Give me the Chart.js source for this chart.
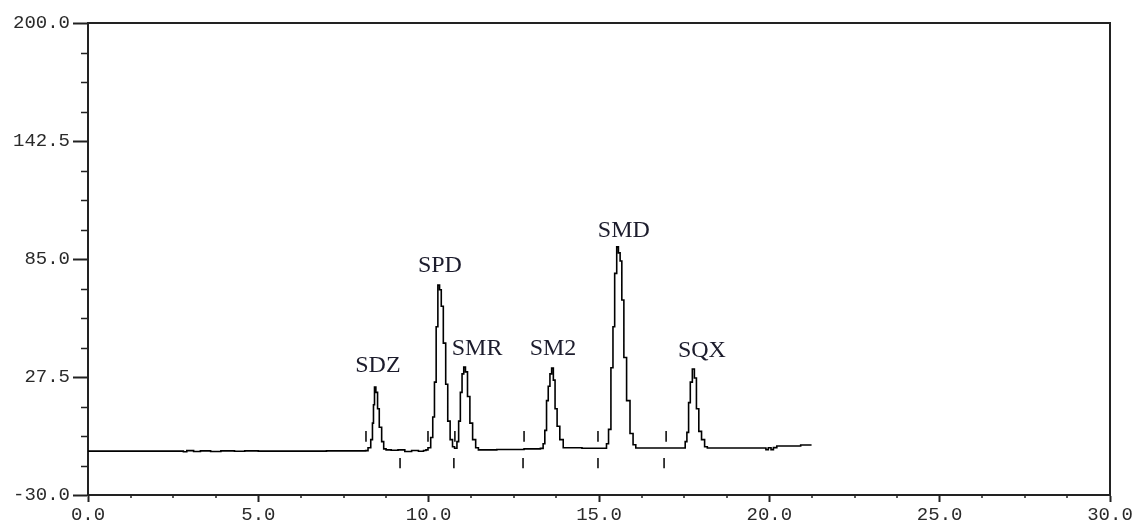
<!DOCTYPE html>
<html><head><meta charset="utf-8">
<script src="https://cdn.jsdelivr.net/npm/chart.js@4/dist/chart.umd.min.js"></script>
<style>html,body{margin:0;padding:0;background:#fff}#wrap{width:1139px;height:526px;position:relative}</style>
</head><body><div id="wrap"><canvas id="c"></canvas></div>
<script>
// ---- axis settings ----
const xMin = 0, xMax = 30, xMajorStep = 5, xMinorStep = 1.25;
const yMin = -30, yMax = 200, yMajorStep = 57.5, yMinorStep = 14.375;

// ---- chromatogram trace (time in min, signal) ----
const baselineStart = [[0,-8.6],[2.7,-8.6],[2.8,-8.9],[2.9,-8.4],[3.1,-8.8],[3.3,-8.5],[3.6,-8.8],[3.9,-8.5],[4.3,-8.7],[4.6,-8.5],[5.0,-8.6],[7.0,-8.5],[8.15,-8.4]];
const sdzPeak = [[8.22,-7.0],[8.30,-3.0],[8.35,5.0],[8.38,14.0],[8.41,22.6],[8.45,20.0],[8.50,12.0],[8.55,3.0],[8.62,-4.0],[8.68,-7.5],[8.75,-8.0]];
const gap1 = [[8.9,-8.2],[9.1,-8.0],[9.3,-8.8],[9.5,-8.3],[9.7,-8.7],[9.85,-8.3]];
const spdPeak = [[9.92,-8.0],[9.98,-7.0],[10.06,-2.0],[10.12,8.0],[10.17,25.0],[10.22,52.0],[10.27,72.3],[10.32,70.0],[10.37,62.0],[10.43,44.0],[10.50,24.0],[10.56,6.0],[10.63,-3.0],[10.70,-6.5]];
const smrPeak = [[10.76,-7.2],[10.83,-4.0],[10.88,6.0],[10.93,20.0],[10.98,29.0],[11.03,32.4],[11.08,30.0],[11.14,18.0],[11.21,5.0],[11.29,-3.0],[11.38,-7.0],[11.46,-8.0]];
const gap2 = [[12.0,-7.8],[12.8,-7.5],[13.28,-7.3]];
const sm2Peak = [[13.36,-5.0],[13.41,1.5],[13.46,16.0],[13.51,23.0],[13.56,29.0],[13.61,31.9],[13.66,26.0],[13.71,12.0],[13.77,3.5],[13.85,-3.0],[13.95,-7.0]];
const gap3 = [[14.5,-7.2],[15.15,-7.2]];
const smdPeak = [[15.22,-5.0],[15.28,2.0],[15.35,32.0],[15.41,52.0],[15.46,78.0],[15.52,90.9],[15.57,88.0],[15.62,84.0],[15.67,65.0],[15.73,37.0],[15.81,16.0],[15.91,0.0],[16.00,-5.5],[16.08,-7.1]];
const gap4 = [[17.0,-7.1],[17.46,-7.1]];
const sqxPeak = [[17.53,-4.0],[17.58,0.5],[17.63,15.0],[17.68,25.0],[17.74,31.4],[17.80,27.0],[17.86,12.0],[17.93,1.0],[18.01,-3.0],[18.10,-6.5],[18.18,-7.1]];
const baselineEnd = [[19.0,-7.1],[19.85,-7.1],[19.9,-7.9],[19.97,-7.0],[20.05,-7.9],[20.12,-6.9],[20.22,-6.1],[20.9,-6.1],[20.92,-5.6],[21.24,-5.6]];

// ---- integration event marks (time, from, to) ----
const upperMarkTimes = [8.16, 9.98, 10.77, 12.80, 14.97, 16.97];
const upperMarkRange = [-4.0, 1.2];
const lowerMarkTimes = [9.16, 10.74, 12.77, 14.97, 16.91];
const lowerMarkRange = [-17.0, -12.0];

// ---- peak labels ----
const peakNames = ['SDZ','SPD','SMR','SM2','SMD','SQX'];
const peakLabelX = [8.51, 10.33, 11.42, 13.65, 15.73, 18.02];
const peakLabelY = [29.9, 78.7, 38.2, 38.2, 95.7, 37.3];

// ---- build datasets ----
const trace = [].concat(baselineStart, sdzPeak, gap1, spdPeak, smrPeak, gap2, sm2Peak, gap3, smdPeak, gap4, sqxPeak, baselineEnd)
  .map(p => ({x: p[0], y: p[1]}));
const marks = [];
upperMarkTimes.forEach(t => { marks.push({x:t,y:upperMarkRange[0]},{x:t,y:upperMarkRange[1]},{x:t,y:null}); });
lowerMarkTimes.forEach(t => { marks.push({x:t,y:lowerMarkRange[0]},{x:t,y:lowerMarkRange[1]},{x:t,y:null}); });

const isMult = (v, base, step) => { const r = (v - base) / step; return Math.abs(r - Math.round(r)) < 1e-6; };
const tickFont = {family: '"Liberation Mono", monospace', size: 19};
const textColor = '#2a2a2a';
const axisColor = '#222';

const extras = {
  id: 'extras',
  afterDraw(chart) {
    const {ctx, chartArea: a, scales: {x, y}} = chart;
    ctx.save();
    ctx.strokeStyle = axisColor;
    ctx.lineWidth = 2;
    // frame top + right
    ctx.beginPath();
    ctx.moveTo(a.left, a.top); ctx.lineTo(a.right, a.top); ctx.lineTo(a.right, a.bottom);
    ctx.stroke();
    // minor ticks
    ctx.lineWidth = 1.5;
    ctx.beginPath();
    for (let v = yMin; v <= yMax + 1e-9; v += yMinorStep) {
      if (isMult(v, yMin, yMajorStep)) continue;
      const py = Math.round(y.getPixelForValue(v)) + 0.5;
      ctx.moveTo(a.left - 7, py); ctx.lineTo(a.left, py);
    }
    for (let v = xMin; v <= xMax + 1e-9; v += xMinorStep) {
      if (isMult(v, xMin, xMajorStep)) continue;
      const px = Math.round(x.getPixelForValue(v));
      ctx.moveTo(px, a.bottom); ctx.lineTo(px, a.bottom + 3);
    }
    ctx.stroke();
    // peak labels
    ctx.fillStyle = '#1c1c2c';
    ctx.font = '24px "Liberation Serif", serif';
    ctx.textAlign = 'center';
    ctx.textBaseline = 'alphabetic';
    peakNames.forEach((n, i) => ctx.fillText(n, x.getPixelForValue(peakLabelX[i]), y.getPixelForValue(peakLabelY[i])));
    ctx.restore();
  }
};

new Chart(document.getElementById('c'), {
  type: 'line',
  data: {
    datasets: [
      {data: trace, borderColor: '#000', borderWidth: 1.6, pointRadius: 0, stepped: true, fill: false},
      {data: marks, borderColor: '#000', borderWidth: 1.5, pointRadius: 0, spanGaps: false, fill: false}
    ]
  },
  options: {
    responsive: true, maintainAspectRatio: false, animation: false, devicePixelRatio: 1,
    layout: {padding: {top: 23, right: 29, left: 0, bottom: 0}},
    plugins: {legend: {display: false}, tooltip: {enabled: false}},
    scales: {
      x: {
        type: 'linear', min: xMin, max: xMax,
        afterFit: s => { s.height = 31; },
        ticks: {stepSize: xMinorStep, autoSkip: false, maxRotation: 0, padding: 2, color: textColor, font: tickFont,
          callback: v => isMult(v, xMin, xMajorStep) ? v.toFixed(1) : ''},
        grid: {drawOnChartArea: false, tickLength: 7, tickWidth: 2,
          tickColor: c => isMult(c.tick.value, xMin, xMajorStep) ? axisColor : 'rgba(0,0,0,0)'},
        border: {color: axisColor, width: 2}
      },
      y: {
        type: 'linear', min: yMin, max: yMax,
        afterFit: s => { s.width = 88; },
        ticks: {stepSize: yMinorStep, autoSkip: false, padding: 3, color: textColor, font: tickFont,
          callback: v => isMult(v, yMin, yMajorStep) ? v.toFixed(1) : ''},
        grid: {drawOnChartArea: false, tickLength: 15, tickWidth: 2,
          tickColor: c => isMult(c.tick.value, yMin, yMajorStep) ? axisColor : 'rgba(0,0,0,0)'},
        border: {color: axisColor, width: 2}
      }
    }
  },
  plugins: [extras]
});
</script>
</body></html>
